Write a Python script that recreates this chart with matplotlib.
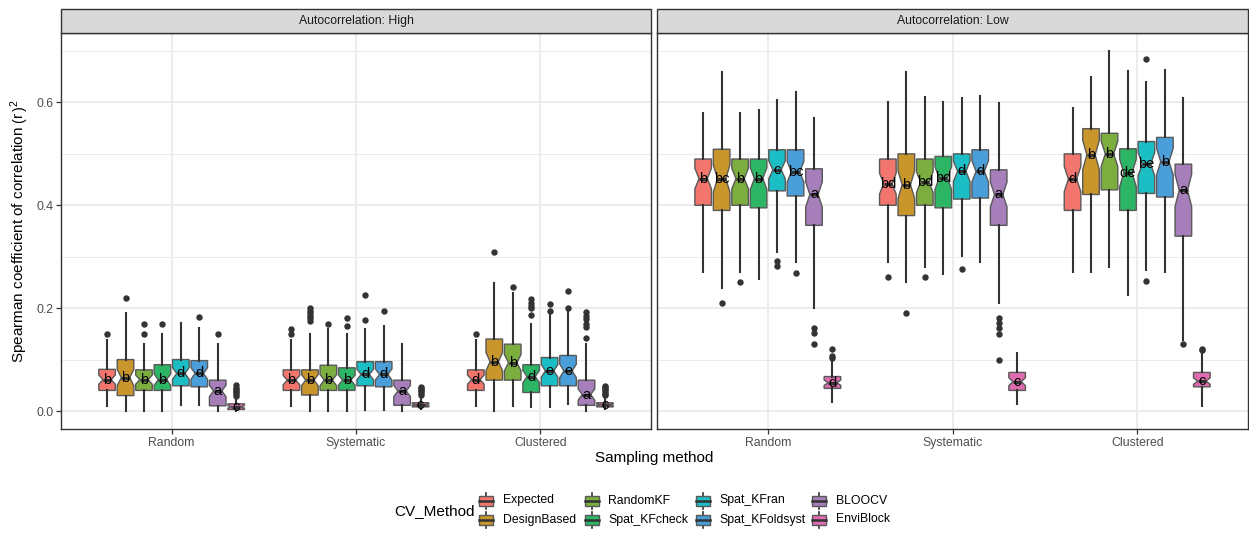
import matplotlib
matplotlib.use('Agg')
import matplotlib.pyplot as plt
from matplotlib.patches import Rectangle
import numpy as np

plt.rcParams['font.family'] = ['Liberation Sans', 'DejaVu Sans']
plt.rcParams['mathtext.fontset'] = 'custom'
plt.rcParams['mathtext.rm'] = 'Liberation Sans'
plt.rcParams['mathtext.it'] = 'Liberation Sans:italic'

sampling = ['Random', 'Systematic', 'Clustered']
methods = ['Expected', 'DesignBased', 'RandomKF', 'Spat_KFcheck',
           'Spat_KFran', 'Spat_KFoldsyst', 'BLOOCV', 'EnviBlock']
method_colors = ['#F2766E', '#C9962B', '#7CAE3F', '#2DB566',
                 '#1BBEC4', '#4A9FDA', '#A67EBA', '#DE6CAE']
panels = ['Autocorrelation: High', 'Autocorrelation: Low']

# rows = sampling method, columns = CV method
high_whislo = [
    [0.010, 0.000, 0.000, 0.000, 0.012, 0.012, 0.000, 0.000],
    [0.010, 0.000, 0.000, 0.000, 0.002, 0.002, 0.000, 0.003],
    [0.010, 0.000, 0.010, 0.007, 0.008, 0.013, 0.000, 0.003],
]
high_q1 = [
    [0.040, 0.030, 0.040, 0.040, 0.049, 0.047, 0.010, 0.003],
    [0.040, 0.031, 0.040, 0.040, 0.049, 0.047, 0.011, 0.008],
    [0.040, 0.060, 0.060, 0.036, 0.049, 0.049, 0.011, 0.008],
]
high_med = [
    [0.061, 0.065, 0.061, 0.061, 0.073, 0.073, 0.039, 0.008],
    [0.060, 0.060, 0.060, 0.060, 0.071, 0.071, 0.039, 0.012],
    [0.061, 0.096, 0.094, 0.067, 0.078, 0.078, 0.032, 0.012],
]
high_q3 = [
    [0.081, 0.100, 0.080, 0.090, 0.100, 0.098, 0.060, 0.014],
    [0.080, 0.080, 0.089, 0.084, 0.096, 0.096, 0.060, 0.016],
    [0.080, 0.140, 0.130, 0.090, 0.104, 0.108, 0.060, 0.016],
]
high_whishi = [
    [0.139, 0.190, 0.130, 0.150, 0.172, 0.162, 0.131, 0.027],
    [0.138, 0.150, 0.160, 0.150, 0.160, 0.166, 0.131, 0.029],
    [0.139, 0.249, 0.230, 0.170, 0.188, 0.195, 0.131, 0.028],
]
high_fliers = [
    [[0.15], [0.22], [0.15, 0.17], [0.17], [], [0.183], [0.15],
     [0.030, 0.033, 0.036, 0.039, 0.042, 0.045, 0.050]],
    [[0.15, 0.16], [0.175, 0.18, 0.185, 0.19, 0.195, 0.20], [0.17],
     [0.165, 0.181], [0.176, 0.225], [0.194], [],
     [0.032, 0.035, 0.038, 0.041, 0.044, 0.047]],
    [[0.15], [0.31], [0.241], [0.186, 0.20, 0.205, 0.21, 0.217],
     [0.195, 0.209], [0.201, 0.234],
     [0.141, 0.163, 0.17, 0.178, 0.185, 0.192],
     [0.031, 0.034, 0.037, 0.040, 0.043, 0.046, 0.049]],
]
high_letters = [
    ['b', 'b', 'b', 'b', 'd', 'd', 'a', 'c'],
    ['b', 'b', 'b', 'b', 'd', 'd', 'a', 'c'],
    ['d', 'b', 'b', 'd', 'e', 'e', 'a', 'c'],
]

low_whislo = [
    [0.271, 0.240, 0.271, 0.256, 0.309, 0.290, 0.200, 0.018],
    [0.290, 0.250, 0.280, 0.267, 0.301, 0.289, 0.210, 0.014],
    [0.270, 0.270, 0.280, 0.225, 0.275, 0.270, 0.139, 0.010],
]
low_q1 = [
    [0.400, 0.390, 0.400, 0.395, 0.428, 0.418, 0.361, 0.044],
    [0.400, 0.380, 0.400, 0.395, 0.412, 0.414, 0.361, 0.040],
    [0.390, 0.421, 0.430, 0.390, 0.423, 0.416, 0.340, 0.047],
]
low_med = [
    [0.452, 0.452, 0.452, 0.452, 0.469, 0.465, 0.421, 0.055],
    [0.442, 0.440, 0.445, 0.453, 0.466, 0.466, 0.421, 0.057],
    [0.451, 0.498, 0.500, 0.463, 0.480, 0.485, 0.429, 0.058],
]
low_q3 = [
    [0.490, 0.509, 0.490, 0.490, 0.508, 0.508, 0.471, 0.067],
    [0.490, 0.500, 0.490, 0.495, 0.500, 0.508, 0.469, 0.075],
    [0.500, 0.549, 0.540, 0.510, 0.524, 0.532, 0.480, 0.075],
]
low_whishi = [
    [0.579, 0.660, 0.579, 0.585, 0.604, 0.620, 0.570, 0.097],
    [0.600, 0.659, 0.610, 0.600, 0.608, 0.612, 0.599, 0.113],
    [0.589, 0.649, 0.700, 0.661, 0.640, 0.663, 0.608, 0.117],
]
low_fliers = [
    [[], [0.21], [0.25], [], [0.282, 0.291], [0.269],
     [0.131, 0.152, 0.162], [0.104, 0.107, 0.121]],
    [[0.26], [0.19], [0.26], [], [0.276], [],
     [0.10, 0.15, 0.162, 0.172, 0.181], []],
    [[], [], [], [], [0.252, 0.685], [], [0.131], [0.118, 0.12]],
]
low_letters = [
    ['b', 'bc', 'b', 'b', 'c', 'bc', 'a', 'd'],
    ['bd', 'b', 'bd', 'bd', 'd', 'd', 'a', 'c'],
    ['d', 'b', 'b', 'de', 'be', 'b', 'a', 'c'],
]

n_obs = 50  # replicates per box, used for the notch half-width

panel_data = [
    (high_whislo, high_q1, high_med, high_q3, high_whishi, high_fliers, high_letters),
    (low_whislo, low_q1, low_med, low_q3, low_whishi, low_fliers, low_letters),
]

W, H = 1249, 534
fig = plt.figure(figsize=(W / 100, H / 100), dpi=100)
fig.patch.set_facecolor('white')

panel_px = [(61, 651), (657, 1248)]
top_px, bot_px = 33, 429

dodge = 0.1
box_w = 0.09

axes = []
for p, (x0, x1) in enumerate(panel_px):
    ax = fig.add_axes([x0 / W, (H - bot_px) / H, (x1 - x0) / W, (bot_px - top_px) / H])
    axes.append(ax)
    wlo, q1, med, q3, whi, fl, let = panel_data[p]

    for g in range(len(sampling)):
        for m in range(len(methods)):
            iqr = q3[g][m] - q1[g][m]
            half = 1.58 * iqr / np.sqrt(n_obs)
            st = dict(whislo=wlo[g][m], q1=q1[g][m], med=med[g][m],
                      q3=q3[g][m], whishi=whi[g][m], fliers=fl[g][m],
                      cilo=med[g][m] - half, cihi=med[g][m] + half)
            pos = g + (m - 3.5) * dodge
            ax.bxp([st], positions=[pos], widths=box_w, patch_artist=True,
                   shownotches=True, showcaps=False, manage_ticks=False,
                   boxprops=dict(facecolor=method_colors[m], edgecolor='#595959', linewidth=1.0),
                   medianprops=dict(color='#333333', linewidth=2.2, solid_capstyle='butt'),
                   whiskerprops=dict(color='#333333', linewidth=1.5),
                   flierprops=dict(marker='o', markersize=3.6, markerfacecolor='#333333',
                                   markeredgecolor='#333333', linestyle='none'))
            ax.text(pos, med[g][m], let[g][m], ha='center', va='center',
                    fontsize=10.5, color='black', zorder=5)

    ax.set_xlim(-0.6, 2.6)
    ax.set_ylim(-0.035, 0.735)
    ax.set_xticks(range(len(sampling)))
    ax.set_xticklabels(sampling)
    ax.set_yticks([0.0, 0.2, 0.4, 0.6])
    ax.set_yticks([0.1, 0.3, 0.5, 0.7], minor=True)
    ax.grid(True, which='major', color='#EBEBEB', linewidth=1.3)
    ax.grid(True, which='minor', axis='y', color='#EBEBEB', linewidth=0.7)
    ax.set_axisbelow(True)
    ax.tick_params(axis='both', which='major', length=3.5, width=0.9, color='#333333',
                   labelsize=8.8, labelcolor='#4D4D4D', pad=2)
    ax.tick_params(axis='y', which='minor', length=0)
    for sp in ax.spines.values():
        sp.set_color('#333333')
        sp.set_linewidth(1.0)
    if p == 0:
        ax.set_yticklabels(['0.0', '0.2', '0.4', '0.6'])
    else:
        ax.tick_params(axis='y', which='major', length=0, labelleft=False)

# overlay in pixel coordinates for strips, titles and legend
ov = fig.add_axes([0, 0, 1, 1])
ov.set_xlim(0, W)
ov.set_ylim(H, 0)
ov.axis('off')

for (x0, x1), name in zip(panel_px, panels):
    ov.add_patch(Rectangle((x0, 9), x1 - x0, 24, facecolor='#D9D9D9',
                           edgecolor='#333333', linewidth=1.0))
    ov.text((x0 + x1) / 2, 21, name, ha='center', va='center',
            fontsize=8.8, color='#1A1A1A')

ov.text(20, 231, r'Spearman coefficient of correlation $\left({\mathrm{r}}_{\,}^{\,}\right)^{2}$',
        rotation=90, ha='center', va='center', fontsize=11, color='black')
ov.text(654, 458, 'Sampling method', ha='center', va='center',
        fontsize=11, color='black')

# legend
ov.text(394, 511, 'CV_Method', ha='left', va='center', fontsize=11, color='black')
key_x = [486.5, 591.7, 702.7, 819.3]
row_y = [500.5, 519.5]
for m, (name, col) in enumerate(zip(methods, method_colors)):
    cx = key_x[m // 2]
    cy = row_y[m % 2]
    ov.plot([cx, cx], [cy - 8, cy + 8], color='#333333', linewidth=1.2)
    ov.add_patch(Rectangle((cx - 7, cy - 5), 14, 10, facecolor=col,
                           edgecolor='#595959', linewidth=1.0, zorder=3))
    ov.plot([cx - 7, cx + 7], [cy, cy], color='#333333', linewidth=1.8, zorder=4)
    ov.text(cx + 16.5, cy, name, ha='left', va='center', fontsize=8.8, color='black')

fig.savefig('out.png', dpi=100, facecolor='white')
